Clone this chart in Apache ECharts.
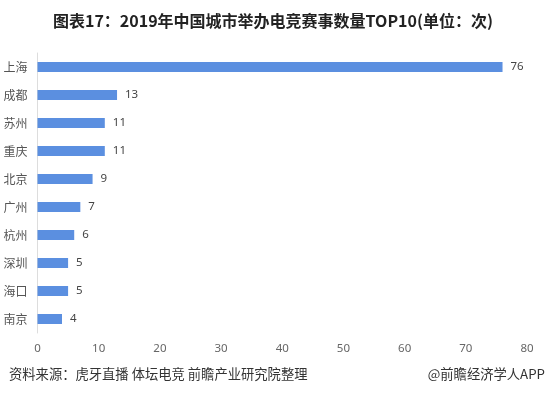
<!DOCTYPE html>
<html><head><meta charset="utf-8">
<script src="https://cdn.jsdelivr.net/npm/echarts@6/dist/echarts.min.js"></script>
<style>html,body{margin:0;padding:0;background:#fff}#c{width:546px;height:395px}</style>
</head><body><div id="c"></div>
<script>
const categories = ['上海','成都','苏州','重庆','北京','广州','杭州','深圳','海口','南京'];
const values = [76,13,11,11,9,7,6,5,5,4];
const xMin = 0, xMax = 80, xStep = 10;
const titleText = '图表17：2019年中国城市举办电竞赛事数量TOP10(单位：次)';
const sourceText = '资料来源：虎牙直播 体坛电竞 前瞻产业研究院整理';
const brandText = '@前瞻经济学人APP';

const chart = echarts.init(document.getElementById('c'));
chart.setOption({
  animation:false,
  title:{text:titleText,left:'center',top:8,textStyle:{fontSize:16,fontWeight:'bold',color:'#222',fontFamily:'Noto Sans CJK SC'}},
  graphic:[
    {type:'text',left:9,top:367,style:{text:sourceText,fontSize:13.3,fill:'#333',fontFamily:'Noto Sans CJK SC'}},
    {type:'text',right:1,top:367,style:{text:brandText,fontSize:13.3,fill:'#333',fontFamily:'Noto Sans CJK SC'}}
  ],
  grid:{left:37.5,right:19,top:53,bottom:62},
  xAxis:{type:'value',min:xMin,max:xMax,interval:xStep,
    axisLine:{show:false},axisTick:{show:false},splitLine:{show:false},
    axisLabel:{color:'#666',fontSize:11.5,margin:10,fontFamily:'Noto Sans'}},
  yAxis:{type:'category',data:categories,inverse:true,
    axisLine:{show:true,lineStyle:{color:'#ddd'}},axisTick:{show:false},
    axisLabel:{color:'#555',fontSize:12,margin:10,fontFamily:'Noto Sans CJK SC'}},
  series:[{type:'bar',data:values,barWidth:10,itemStyle:{color:'#5b8fe0'},
    label:{show:true,position:'right',distance:8,color:'#444',fontSize:11.5,fontFamily:'Noto Sans'}}]
});
</script></body></html>
